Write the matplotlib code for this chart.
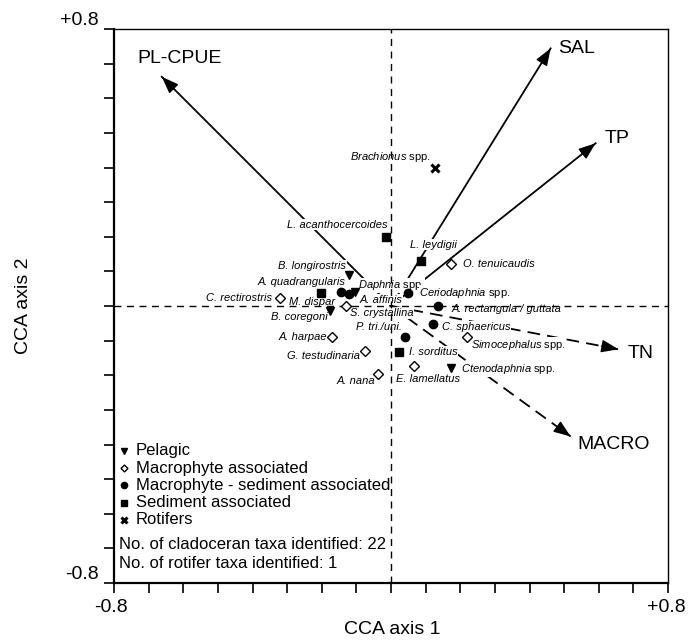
import numpy as np
import matplotlib
matplotlib.use("Agg")
import matplotlib.pyplot as plt
from matplotlib.patches import ArrowStyle

plt.rcParams['font.family'] = 'Liberation Sans'
plt.rcParams['mathtext.fontset'] = 'custom'
plt.rcParams['mathtext.rm'] = 'Liberation Sans'
plt.rcParams['mathtext.it'] = 'Liberation Sans:italic'

# species scores
species = ["L. acanthocercoides", "L. leydigii", "O. tenuicaudis", "B. longirostris",
           "M. dispar", "S. crystallina", "A. quadrangularis", "A. affinis", "Daphnia spp.",
           "C. rectirostris", "B. coregoni", "P. tri./uni.", "A. harpae", "G. testudinaria",
           "A. nana", "E. lamellatus", "I. sorditus", "Ceriodaphnia spp.",
           "A. rectangula / guttata", "C. sphaericus", "Simocephalus spp.",
           "Ctenodaphnia spp.", "Brachionus spp."]
axis1 = [-0.014, 0.086, 0.174, -0.121, -0.202, -0.131, -0.144, -0.121, -0.104,
         -0.321, -0.176, 0.040, -0.171, -0.076, -0.038, 0.067, 0.023, 0.050,
         0.137, 0.122, 0.219, 0.172, 0.127]
axis2 = [0.200, 0.131, 0.121, 0.090, 0.038, 0.000, 0.040, 0.035, 0.040,
         0.023, -0.014, -0.089, -0.090, -0.129, -0.196, -0.172, -0.132, 0.038,
         0.001, -0.052, -0.089, -0.180, 0.398]
group = ["sed", "sed", "mac", "pel", "sed", "mac", "msed", "msed", "pel",
         "mac", "pel", "msed", "mac", "mac", "mac", "mac", "sed", "msed",
         "msed", "msed", "mac", "pel", "rot"]

# environmental vectors
env_names = ["PL-CPUE", "SAL", "TP", "TN", "MACRO"]
env_axis1 = [-0.662, 0.461, 0.591, 0.657, 0.519]
env_axis2 = [0.662, 0.744, 0.470, -0.125, -0.377]
env_dashed = [False, False, False, True, True]

group_order = ["pel", "mac", "msed", "sed", "rot"]
group_names = ["Pelagic", "Macrophyte associated", "Macrophyte - sediment associated",
               "Sediment associated", "Rotifers"]
n_clad = 22
n_rot = 1

# label placement: offset in pixels from the point, alignment
label_pos = {
    "L. acanthocercoides": (1, 12, "right"), "L. leydigii": (-11, 16, "left"),
    "O. tenuicaudis": (12, 0, "left"), "B. longirostris": (-3, 9, "right"),
    "M. dispar": (-32, -9, "left"), "S. crystallina": (4, -7, "left"),
    "A. quadrangularis": (4, 10, "right"), "A. affinis": (10, -6, "left"),
    "Daphnia spp.": (3, 7, "left"), "C. rectirostris": (-8, 0, "right"),
    "B. coregoni": (-2, -6, "right"), "P. tri./uni.": (-3, 10, "right"),
    "A. harpae": (-5, 0, "right"), "G. testudinaria": (-5, -5, "right"),
    "A. nana": (-3, -7, "right"), "E. lamellatus": (-18, -13, "left"),
    "I. sorditus": (10, 0, "left"), "Ceriodaphnia spp.": (11, 0, "left"),
    "A. rectangula / guttata": (13, -3, "left"), "C. sphaericus": (9, -3, "left"),
    "Simocephalus spp.": (4, -8, "left"), "Ctenodaphnia spp.": (10, -1, "left"),
    "Brachionus spp.": (-4, 11, "right"),
}
env_label_pos = [(-24, 18), (8, 0), (9, 5), (9, -4), (7, -8)]

styles = {
    "pel": dict(marker="v", mfc="k", mec="k", ms=6),
    "mac": dict(marker="D", mfc="white", mec="k", ms=5, mew=1.0),
    "msed": dict(marker="o", mfc="k", mec="k", ms=6),
    "sed": dict(marker="s", mfc="k", mec="k", ms=6),
    "rot": dict(marker="x", mfc="k", mec="k", ms=6, mew=2.2),
}

fig = plt.figure(figsize=(6.91, 6.4), dpi=100)
ax = fig.add_axes([114 / 691, 1 - 583 / 640, 554 / 691, 554 / 640])
ax.set_xlim(-0.8, 0.8)
ax.set_ylim(-0.8, 0.8)

ticks = np.arange(-8, 9) / 10
ax.set_xticks(ticks)
ax.set_yticks(ticks)
ax.tick_params(direction="out", length=7, width=1.2, labelbottom=False, labelleft=False)
ax.spines["left"].set_linewidth(1.6)
ax.spines["bottom"].set_linewidth(1.6)
ax.spines["top"].set_linewidth(1.0)
ax.spines["right"].set_linewidth(1.0)

# end tick labels
for txt, xy, off, ha, va in [("+0.8", (-0.8, 0.8), (-15, 0), "right", "bottom"),
                             ("-0.8", (-0.8, -0.8), (-15, 0), "right", "bottom"),
                             ("-0.8", (-0.8, -0.8), (-3, -16), "center", "top"),
                             ("+0.8", (0.8, -0.8), (-2, -16), "center", "top")]:
    ax.annotate(txt, xy=xy, xytext=off, textcoords="offset pixels",
                ha=ha, va=va, fontsize=14, annotation_clip=False)

ax.axhline(0, color="k", lw=1.0, ls=(0, (5, 4)), zorder=4)
ax.axvline(0, color="k", lw=1.0, ls=(0, (5, 4)), zorder=4)

# environmental arrows
head = ArrowStyle("-|>", head_length=0.75, head_width=0.28)
for name, ex, ey, dashed, off in zip(env_names, env_axis1, env_axis2, env_dashed, env_label_pos):
    ls = (0, (7, 4)) if dashed else "-"
    ax.plot([0, ex], [0, ey], color="k", lw=1.3, ls=ls, zorder=2)
    d = np.hypot(ex, ey)
    ax.annotate("", xy=(ex, ey), xytext=(ex - 0.05 * ex / d, ey - 0.05 * ey / d),
                arrowprops=dict(arrowstyle=head, mutation_scale=14, color="k",
                                lw=1.0, shrinkA=0, shrinkB=0), zorder=2)
    ax.annotate(name, xy=(ex, ey), xytext=off, textcoords="offset pixels",
                ha="left", va="center", fontsize=14)

# species
for name, sx, sy, g in zip(species, axis1, axis2, group):
    ax.plot(sx, sy, ls="none", zorder=5, **styles[g])
    dx, dy, ha = label_pos[name]
    if name.endswith(" spp."):
        txt = r"$\mathit{" + name[:-5] + "}$ spp."
        st = "normal"
    else:
        txt = name
        st = "italic"
    ax.annotate(txt, xy=(sx, sy), xytext=(dx, dy), textcoords="offset pixels",
                ha=ha, va="center", fontsize=8, style=st, zorder=3,
                bbox=dict(boxstyle="square,pad=0.05", fc="white", ec="none"))

# legend
ly = -0.418
for g, gname in zip(group_order, group_names):
    st = dict(styles[g])
    st["ms"] = st["ms"] - 1.5
    ax.plot(-0.771, ly, ls="none", **st)
    ax.text(-0.737, ly, gname, ha="left", va="center", fontsize=12)
    ly -= 0.05
ax.text(-0.786, -0.690, f"No. of cladoceran taxa identified: {n_clad}",
        ha="left", va="center", fontsize=12)
ax.text(-0.786, -0.743, f"No. of rotifer taxa identified: {n_rot}",
        ha="left", va="center", fontsize=12)

fig.text(24 / 691, 1 - 306 / 640, "CCA axis 2", rotation=90, ha="center", va="center", fontsize=14)
fig.text(392 / 691, 1 - 630 / 640, "CCA axis 1", ha="center", va="center", fontsize=14)

fig.savefig("out.png", dpi=100)
